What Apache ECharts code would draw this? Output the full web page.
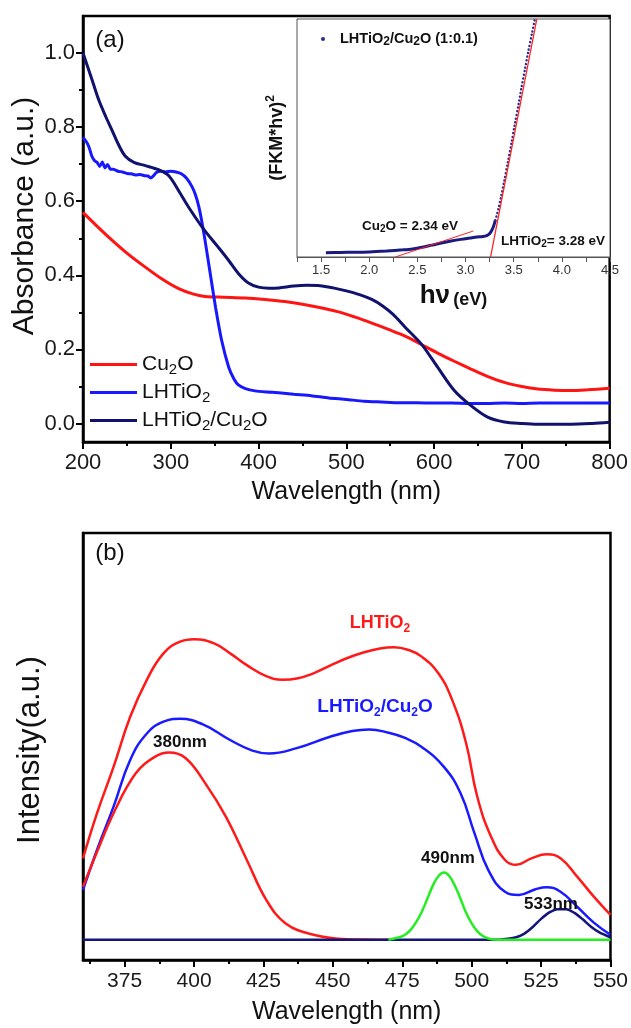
<!DOCTYPE html>
<html><head><meta charset="utf-8">
<script src="https://cdn.jsdelivr.net/npm/echarts@6/dist/echarts.min.js"></script>
<style>html,body{margin:0;padding:0;background:#fff}#c{width:631px;height:1028px}</style>
</head><body><div id="c"></div>
<script>
const FONT = "'Liberation Sans', Arial, Helvetica, sans-serif";

// ---------- Panel (a): UV-vis absorbance ----------
const absCu2O = [[200,0.57],[215,0.535],[233,0.495],[250,0.46],[271,0.422],[290,0.39],[309,0.364],[325,0.35],[339,0.343],[360,0.341],[385,0.339],[410,0.334],[430,0.329],[450,0.322],[468,0.314],[490,0.302],[510,0.287],[529,0.271],[548,0.254],[567,0.236],[585,0.214],[604,0.19],[623,0.168],[642,0.147],[660,0.128],[680,0.111],[700,0.1],[718,0.093],[737,0.09],[756,0.089],[775,0.091],[800,0.095]];
const absLHTiO2 = [[200,0.772],[204,0.76],[207,0.745],[210,0.722],[213,0.71],[216,0.705],[219,0.694],[222,0.706],[225,0.69],[228,0.699],[231,0.687],[235,0.686],[240,0.681],[245,0.679],[250,0.675],[255,0.674],[260,0.671],[265,0.672],[270,0.669],[274,0.668],[277,0.663],[280,0.668],[284,0.678],[288,0.681],[294,0.679],[300,0.681],[306,0.679],[312,0.674],[318,0.662],[324,0.64],[328,0.618],[332,0.585],[335,0.55],[339,0.495],[345,0.404],[351,0.314],[358,0.224],[366,0.152],[372,0.12],[377,0.104],[385,0.094],[396,0.088],[410,0.085],[423,0.083],[440,0.079],[460,0.075],[480,0.069],[500,0.065],[520,0.06],[540,0.058],[560,0.056],[580,0.056],[600,0.055],[620,0.055],[640,0.054],[660,0.054],[680,0.055],[700,0.054],[720,0.055],[740,0.055],[760,0.055],[780,0.055],[800,0.055]];
const absComposite = [[200,1.0],[210,0.93],[218,0.873],[226,0.828],[233,0.792],[240,0.755],[248,0.722],[258,0.705],[271,0.696],[286,0.685],[298,0.668],[310,0.624],[320,0.585],[337,0.526],[354,0.476],[366,0.44],[377,0.405],[388,0.38],[400,0.368],[412,0.365],[423,0.366],[440,0.371],[455,0.373],[470,0.372],[485,0.366],[500,0.358],[515,0.348],[529,0.335],[541,0.318],[553,0.295],[567,0.26],[586,0.213],[604,0.152],[623,0.089],[642,0.048],[661,0.017],[680,0.004],[700,0.0],[718,-0.002],[756,-0.002],[780,0.0],[800,0.003]];
const absYTicks = [0, 0.2, 0.4, 0.6, 0.8, 1.0];
const absYMinorTicks = [0.1, 0.3, 0.5, 0.7, 0.9];

// ---------- Inset: Tauc plot ----------
const taucEnergy = [1.55,1.7,1.85,2.0,2.18,2.35,2.45,2.55,2.65,2.75,2.85,2.95,3.05,3.12,3.18,3.22,3.25,3.27,3.29,3.31,3.34,3.37,3.40,3.44,3.48,3.51,3.55,3.58,3.62,3.65,3.69,3.72];
const taucSignal = [1.8,1.9,2.0,2.1,2.5,3.0,3.4,4.1,5.0,5.9,6.7,7.4,8.0,8.4,8.6,9.0,9.8,11.0,12.8,15.5,20,25.5,31.5,40,48.5,55.5,64,71,79.5,86,94,100];
const tangentCu2O = [[2.27,0],[3.08,10.9]];
const tangentLHTiO2 = [[3.26,0],[3.74,100]];
const taucSplit = 3.31;

// ---------- Panel (b): PL spectra ----------
const plLHTiO2 = [[360,0.2],[365,0.31],[371,0.425],[377,0.548],[383,0.639],[389,0.704],[395,0.733],[400,0.739],[407,0.729],[413,0.704],[419,0.675],[426,0.648],[432,0.639],[437,0.642],[443,0.655],[449,0.674],[455,0.692],[461,0.706],[467,0.716],[472,0.719],[477,0.713],[482,0.696],[488,0.655],[493,0.589],[498,0.483],[502,0.352],[507,0.253],[512,0.196],[516,0.184],[521.5,0.2],[527,0.21],[532,0.2],[538,0.155],[544,0.106],[550,0.061]];
const plComposite = [[360,0.122],[365,0.22],[371,0.327],[377,0.442],[383,0.507],[389,0.536],[395,0.543],[403,0.53],[413,0.491],[421,0.465],[427,0.458],[437,0.471],[449,0.499],[457,0.513],[463,0.517],[470,0.509],[476,0.496],[482,0.474],[490,0.425],[496,0.36],[501,0.262],[506,0.171],[512,0.118],[517,0.11],[523,0.124],[527,0.129],[532,0.118],[538,0.081],[544,0.042],[550,0.012]];
const plPeak380 = [[360,0.13],[365,0.215],[371,0.311],[379,0.409],[386,0.45],[391,0.46],[397,0.446],[404,0.385],[411.5,0.302],[419,0.196],[426,0.098],[433,0.04],[443,0.012],[455,0.001],[470,0]];
const plPeak490 = [[470,0],[474,0.006],[476,0.012],[478,0.024],[480,0.043],[482,0.068],[484,0.1],[486,0.133],[488,0.156],[490,0.165],[492,0.156],[494,0.132],[496,0.1],[498,0.066],[500,0.04],[502,0.021],[504,0.009],[506,0.003],[509,0],[520,0],[535,0],[550,0]];
const plPeak533 = [[360,0],[400,0],[440,0],[480,0],[500,0],[510,0],[513,0.002],[516,0.006],[519,0.015],[522,0.031],[525,0.051],[528,0.067],[531,0.075],[534,0.075],[537,0.066],[540,0.05],[543,0.032],[546,0.018],[550,0.006]];
const plXTicks = [375, 400, 425, 450, 475, 500, 525, 550];
const plXMinorTicks = [362.5, 387.5, 412.5, 437.5, 462.5, 487.5, 512.5, 537.5];

const taucPairs = taucEnergy.map((e, i) => [e, taucSignal[i]]);
const taucSolid = taucPairs.filter(p => p[0] <= taucSplit);
const taucDotted = taucPairs.filter(p => p[0] >= taucSplit);

const RED = '#ff1414', BLUE = '#1818ff', NAVY = '#11116e';
const subRich = (size, color, bold) => ({
  s: { fontSize: size, color: color, fill: color, fontFamily: FONT, fontWeight: bold ? 'bold' : 'normal', verticalAlign: 'bottom', lineHeight: Math.round(size * 0.75) }
});

const chart = echarts.init(document.getElementById('c'), null, { renderer: 'canvas' });

const legendNames = { 'Cu2O': 'Cu{s|2}O', 'LHTiO2': 'LHTiO{s|2}', 'LHTiO2/Cu2O': 'LHTiO{s|2}/Cu{s|2}O' };

function gtext(x, y, text, size, color, bold, rich, rotation) {
  const r = {};
  Object.keys(rich || {}).forEach(k => r[k] = rich[k]);
  return {
    type: 'text', x: x, y: y, rotation: rotation || 0, z: 100,
    style: { text: text, fill: color, fontSize: size, fontFamily: FONT, fontWeight: bold ? 'bold' : 'normal',
      align: 'center', verticalAlign: 'middle', lineHeight: Math.round(size * 1.25), rich: r }
  };
}

const smoothLine = (extra) => Object.assign({ type: 'line', symbol: 'none', smooth: 0.3 }, extra);

const option = {
  animation: false,
  backgroundColor: '#fff',
  textStyle: { fontFamily: FONT },
  grid: [
    { left: 83, top: 16, width: 530, height: 426, show: true, borderColor: '#000', borderWidth: 2.5, backgroundColor: 'transparent' },
    { left: 297, top: 19, width: 313, height: 238, show: true, borderColor: '#555', borderWidth: 1, backgroundColor: '#fff', z: 3 },
    { left: 83, top: 533, width: 530, height: 427, show: true, borderColor: '#000', borderWidth: 2.5, backgroundColor: 'transparent' }
  ],
  xAxis: [
    { type: 'value', gridIndex: 0, min: 200, max: 800, interval: 100,
      name: 'Wavelength (nm)', nameLocation: 'middle', nameGap: 38,
      nameTextStyle: { fontSize: 25, color: '#111', fontFamily: FONT },
      axisLine: { onZero: false, lineStyle: { color: '#000', width: 2.5 } },
      axisTick: { show: true, inside: false, length: 7, lineStyle: { color: '#000', width: 2 } },
      minorTick: { show: true, splitNumber: 2, length: 4, lineStyle: { color: '#000', width: 2 } },
      axisLabel: { fontSize: 22, color: '#1a1a1a', margin: 10, fontFamily: FONT, showMinLabel: true, showMaxLabel: true },
      splitLine: { show: false } },
    { type: 'value', gridIndex: 1, min: 1.25, max: 4.5, interval: 0.25,
      name: '{big|hν} {sm|(eV)}', nameLocation: 'middle', nameGap: 24,
      nameTextStyle: { rich: {
        big: { fontSize: 26, fontWeight: 'bold', color: '#111', fontFamily: FONT, verticalAlign: 'bottom', lineHeight: 28 },
        sm: { fontSize: 18, fontWeight: 'bold', color: '#111', fontFamily: FONT, verticalAlign: 'bottom', lineHeight: 22 } } },
      axisLine: { onZero: false, lineStyle: { color: '#555', width: 1 } },
      axisTick: { show: true, inside: false, length: 5, lineStyle: { color: '#555', width: 1 } },
      axisLabel: { fontSize: 13, color: '#333', margin: 7, fontFamily: FONT, showMinLabel: true, showMaxLabel: true,
        formatter: v => (Math.abs(v * 2 - Math.round(v * 2)) < 1e-6 ? v.toFixed(1) : '') },
      splitLine: { show: false } },
    { type: 'value', gridIndex: 2, min: 360, max: 550,
      name: 'Wavelength (nm)', nameLocation: 'middle', nameGap: 40,
      nameTextStyle: { fontSize: 25, color: '#111', fontFamily: FONT },
      axisLine: { onZero: false, lineStyle: { color: '#000', width: 2.5 } },
      axisTick: { show: true, inside: false, length: 7, customValues: plXTicks, lineStyle: { color: '#000', width: 2 } },
      axisLabel: { fontSize: 21, color: '#1a1a1a', margin: 11, fontFamily: FONT, customValues: plXTicks },
      splitLine: { show: false } },
    { type: 'value', gridIndex: 2, min: 360, max: 550, position: 'bottom',
      axisLine: { show: false, onZero: false },
      axisTick: { show: true, inside: false, length: 4, customValues: plXMinorTicks, lineStyle: { color: '#000', width: 2 } },
      axisLabel: { show: false }, splitLine: { show: false } }
  ],
  yAxis: [
    { type: 'value', gridIndex: 0, min: -0.05, max: 1.1,
      axisLine: { onZero: false, lineStyle: { color: '#000', width: 2.5 } },
      axisTick: { show: true, inside: false, length: 7, customValues: absYTicks, lineStyle: { color: '#000', width: 2 } },
      axisLabel: { fontSize: 22, color: '#1a1a1a', margin: 8, fontFamily: FONT, customValues: absYTicks, formatter: v => v.toFixed(1) },
      splitLine: { show: false } },
    { type: 'value', gridIndex: 0, min: -0.05, max: 1.1, position: 'left',
      axisLine: { show: false, onZero: false },
      axisTick: { show: true, inside: false, length: 4, customValues: absYMinorTicks, lineStyle: { color: '#000', width: 2 } },
      axisLabel: { show: false }, splitLine: { show: false } },
    { type: 'value', gridIndex: 1, min: 0, max: 100,
      name: '(FKM*hv){sup|2}', nameLocation: 'middle', nameRotate: 90, nameGap: 8,
      nameTextStyle: { fontSize: 18, fontWeight: 'bold', color: '#111', fontFamily: FONT, lineHeight: 24,
        rich: { sup: { fontSize: 12, fontWeight: 'bold', color: '#111', fontFamily: FONT, verticalAlign: 'top', lineHeight: 10 } } },
      axisLine: { onZero: false, lineStyle: { color: '#555', width: 1 } },
      axisTick: { show: false }, axisLabel: { show: false }, splitLine: { show: false } },
    { type: 'value', gridIndex: 2, min: -0.05, max: 1.0,
      axisLine: { onZero: false, lineStyle: { color: '#000', width: 2.5 } },
      axisTick: { show: false }, axisLabel: { show: false }, splitLine: { show: false } }
  ],
  legend: [
    { data: ['Cu2O', 'LHTiO2', 'LHTiO2/Cu2O'], orient: 'vertical', left: 85, top: 347, itemWidth: 47, itemHeight: 3, itemGap: 3,
      icon: 'rect', selectedMode: false,
      formatter: n => legendNames[n],
      textStyle: { fontSize: 21, color: '#111', fontFamily: FONT, lineHeight: 25, rich: subRich(15, '#111', false) } },
    { data: ['LHTiO2/Cu2O (1:0.1)'], left: 316, top: 25, itemWidth: 4, itemHeight: 4, icon: 'circle', selectedMode: false,
      formatter: () => 'LHTiO{s|2}/Cu{s|2}O (1:0.1)',
      textStyle: { fontSize: 14.5, fontWeight: 'bold', color: '#111', fontFamily: FONT, lineHeight: 18, padding: [0, 0, 0, 10], rich: subRich(12, '#111', true) } }
  ],
  series: [
    smoothLine({ name: 'Cu2O', xAxisIndex: 0, yAxisIndex: 0, data: absCu2O, lineStyle: { color: RED, width: 3 }, itemStyle: { color: RED } }),
    smoothLine({ name: 'LHTiO2', xAxisIndex: 0, yAxisIndex: 0, data: absLHTiO2, smooth: 0.2, lineStyle: { color: BLUE, width: 3 }, itemStyle: { color: BLUE } }),
    smoothLine({ name: 'LHTiO2/Cu2O', xAxisIndex: 0, yAxisIndex: 0, data: absComposite, lineStyle: { color: NAVY, width: 3 }, itemStyle: { color: NAVY } }),

    smoothLine({ name: 'tauc-solid', xAxisIndex: 1, yAxisIndex: 2, data: taucSolid, z: 5, lineStyle: { color: '#1a1a80', width: 3 } }),
    smoothLine({ name: 'LHTiO2/Cu2O (1:0.1)', xAxisIndex: 1, yAxisIndex: 2, data: taucDotted, z: 5,
      lineStyle: { color: '#2a2a90', width: 2.4, type: [0.1, 3.6], cap: 'round' }, itemStyle: { color: '#2a2a90' } }),
    { name: 'tangent-cu2o', type: 'line', xAxisIndex: 1, yAxisIndex: 2, data: tangentCu2O, symbol: 'none', z: 6, lineStyle: { color: '#ff2020', width: 1 } },
    { name: 'tangent-lhtio2', type: 'line', xAxisIndex: 1, yAxisIndex: 2, data: tangentLHTiO2, symbol: 'none', z: 6, lineStyle: { color: '#ff2020', width: 1.3 } },

    smoothLine({ name: 'pl-LHTiO2', xAxisIndex: 2, yAxisIndex: 3, data: plLHTiO2, smooth: 0.45, lineStyle: { color: '#ff1a1a', width: 2.5 } }),
    smoothLine({ name: 'pl-composite', xAxisIndex: 2, yAxisIndex: 3, data: plComposite, smooth: 0.45, lineStyle: { color: '#1a1aff', width: 2.5 } }),
    smoothLine({ name: 'pl-380', xAxisIndex: 2, yAxisIndex: 3, data: plPeak380, smooth: 0.4, lineStyle: { color: '#ff1a1a', width: 2.5 } }),
    smoothLine({ name: 'pl-533', xAxisIndex: 2, yAxisIndex: 3, data: plPeak533, lineStyle: { color: '#14147a', width: 2.5 } }),
    smoothLine({ name: 'pl-490', xAxisIndex: 2, yAxisIndex: 3, data: plPeak490, lineStyle: { color: '#22ee22', width: 2.5 } })
  ],
  graphic: [
    gtext(110, 40, '(a)', 24, '#111', false),
    gtext(110, 553, '(b)', 24, '#111', false),
    gtext(25, 216, 'Absorbance (a.u.)', 30, '#111', false, null, Math.PI / 2),
    gtext(30, 750, 'Intensity(a.u.)', 31, '#111', false, null, Math.PI / 2),
    gtext(410, 226, 'Cu{s|2}O = 2.34 eV', 13.5, '#111', true, subRich(10, '#111', true)),
    gtext(553, 241, 'LHTiO{s|2}= 3.28 eV', 13.5, '#111', true, subRich(10, '#111', true)),
    gtext(380, 623, 'LHTiO{s|2}', 18, '#ff1a1a', true, subRich(12, '#ff1a1a', true)),
    gtext(375, 707, 'LHTiO{s|2}/Cu{s|2}O', 19, '#1a1aff', true, subRich(12, '#1a1aff', true)),
    gtext(180, 742, '380nm', 17, '#111', true),
    gtext(448, 858, '490nm', 17, '#111', true),
    gtext(551, 904, '533nm', 17, '#111', true)
  ]
};
chart.setOption(option);
</script>
</body></html>
